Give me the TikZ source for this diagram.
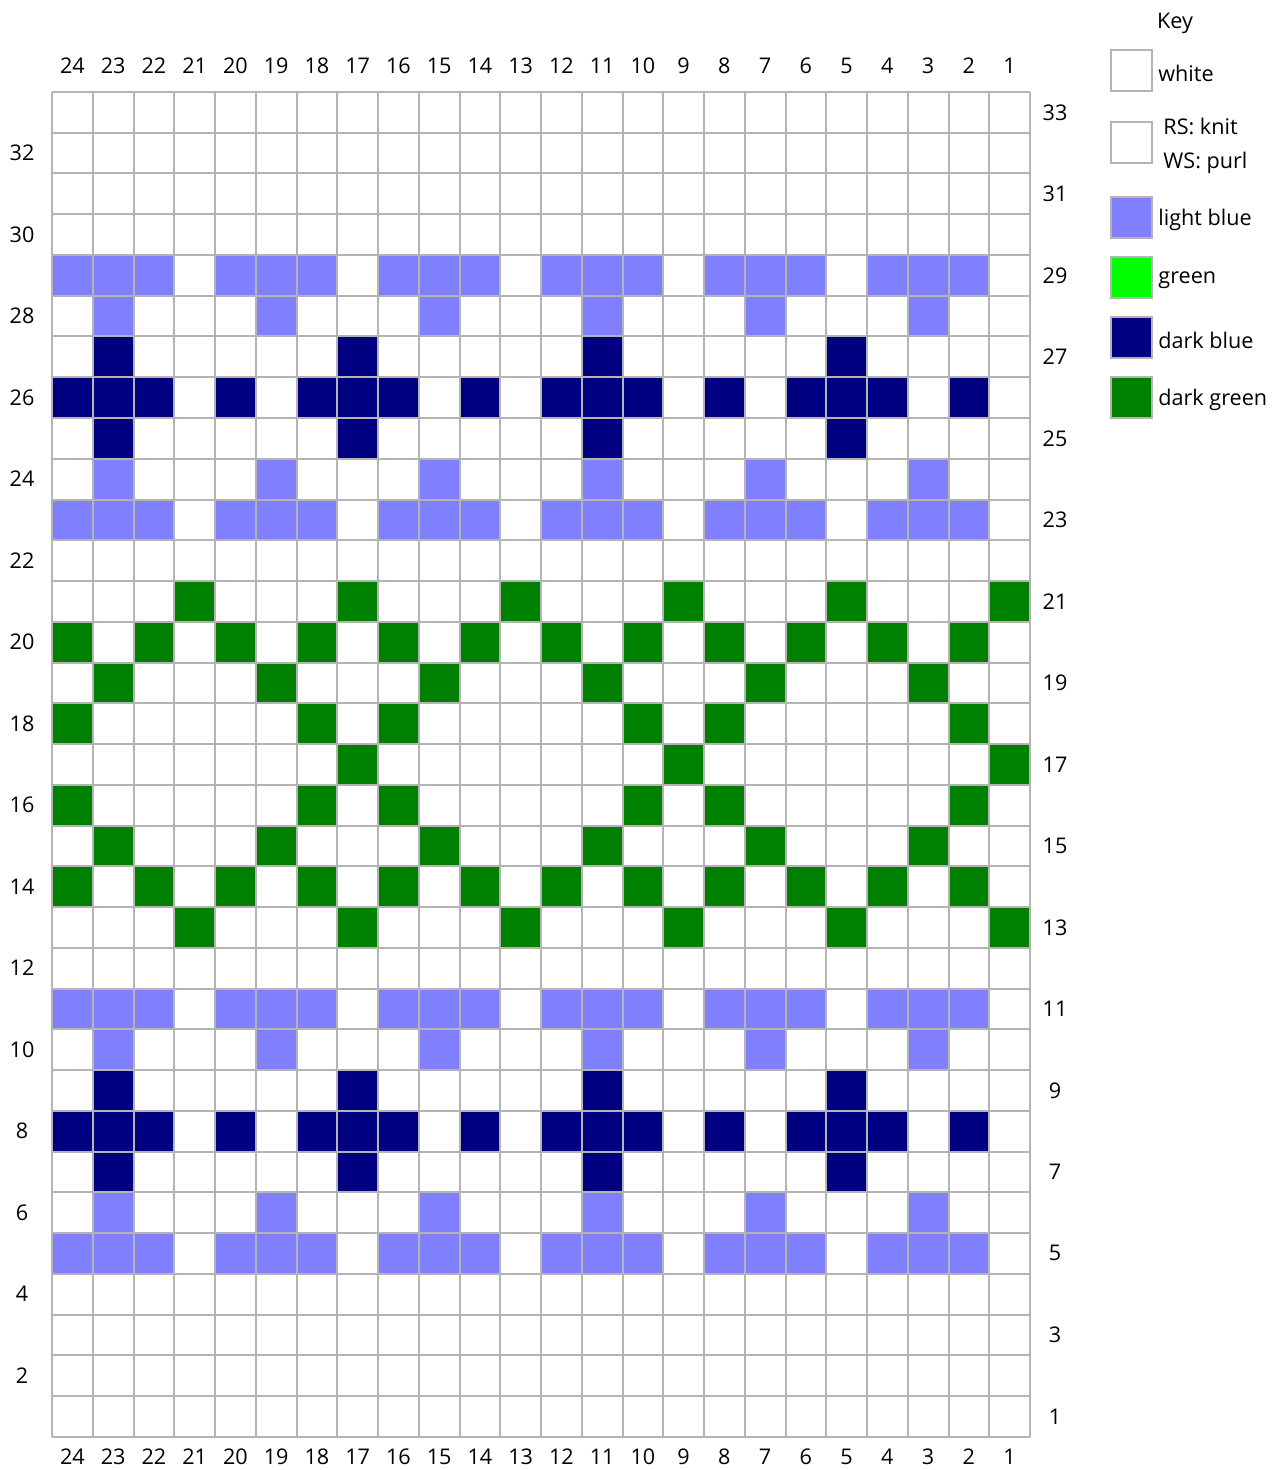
\documentclass[tikz,border=0pt]{standalone}
\usepackage{fontspec}
\setmainfont{Open Sans}
\definecolor{lightblue}{HTML}{8080FF}
\definecolor{darkblue}{HTML}{000080}
\definecolor{brightgreen}{HTML}{00FF00}
\definecolor{darkgreen}{HTML}{008000}
\definecolor{gridgray}{HTML}{B4B4B4}

\newcommand{\cw}{40.75}

\begin{document}
\begin{tikzpicture}[
    x=0.5pt, y=-0.5pt,
    gridline/.style={draw=gridgray, line width=1pt},
    numlabel/.style={font=\fontsize{10.8}{12}\selectfont, inner sep=0pt},
    keybox/.style={draw=gridgray, line width=1pt, minimum size=20.5pt, inner sep=0pt},
    keytext/.style={font=\fontsize{10.8}{17}\selectfont, anchor=west, inner sep=0pt, align=left},
  ]
  \useasboundingbox (0,0) rectangle (1274,1470);

  % coloured stitches
  \foreach \r/\cols in {5/{2,3,4,6,7,8,10,11,12,14,15,16,18,19,20,22,23,24},
                        11/{2,3,4,6,7,8,10,11,12,14,15,16,18,19,20,22,23,24},
                        23/{2,3,4,6,7,8,10,11,12,14,15,16,18,19,20,22,23,24},
                        29/{2,3,4,6,7,8,10,11,12,14,15,16,18,19,20,22,23,24},
                        6/{3,7,11,15,19,23}, 10/{3,7,11,15,19,23},
                        24/{3,7,11,15,19,23}, 28/{3,7,11,15,19,23}}
    \foreach \c in \cols
      \fill[lightblue] ({52+(24-\c)*\cw}, {92+(33-\r)*\cw}) rectangle ++(\cw,\cw);

  \foreach \r/\cols in {7/{5,11,17,23}, 9/{5,11,17,23}, 25/{5,11,17,23}, 27/{5,11,17,23},
                        8/{2,4,5,6,8,10,11,12,14,16,17,18,20,22,23,24},
                        26/{2,4,5,6,8,10,11,12,14,16,17,18,20,22,23,24}}
    \foreach \c in \cols
      \fill[darkblue] ({52+(24-\c)*\cw}, {92+(33-\r)*\cw}) rectangle ++(\cw,\cw);

  \foreach \r/\cols in {13/{1,5,9,13,17,21}, 21/{1,5,9,13,17,21},
                        14/{2,4,6,8,10,12,14,16,18,20,22,24},
                        20/{2,4,6,8,10,12,14,16,18,20,22,24},
                        15/{3,7,11,15,19,23}, 19/{3,7,11,15,19,23},
                        16/{2,8,10,16,18,24}, 18/{2,8,10,16,18,24},
                        17/{1,9,17}}
    \foreach \c in \cols
      \fill[darkgreen] ({52+(24-\c)*\cw}, {92+(33-\r)*\cw}) rectangle ++(\cw,\cw);

  % grid
  \foreach \i in {0,...,24}
    \draw[gridline] ({52+\i*\cw}, 92) -- ({52+\i*\cw}, {92+33*\cw});
  \foreach \j in {0,...,33}
    \draw[gridline] (52, {92+\j*\cw}) -- ({52+24*\cw}, {92+\j*\cw});

  % stitch and row numbers
  \foreach \c in {1,...,24} {
    \node[numlabel] (top\c) at ({52+(24.5-\c)*\cw}, 66) {\c};
    \node[numlabel] (bot\c) at ({52+(24.5-\c)*\cw}, 1457) {\c};
  }
  \foreach \r in {2,4,...,32}
    \node[numlabel] (row\r) at (22, {92+(33.5-\r)*\cw}) {\r};
  \foreach \r in {1,3,...,33}
    \node[numlabel] (row\r) at (1055, {92+(33.5-\r)*\cw}) {\r};

  % key
  \node[numlabel] (key) at (1175, 23) {Key};
  \node[keybox] (kwhite) at (1131, 71) {};
  \node[keytext] (twhite) at (1158, 73) {white};
  \node[keybox] (kknit) at (1131, 143) {};
  \node[keytext] (tknit) at (1163, 146) {RS: knit\\WS: purl};
  \node[keybox, fill=lightblue] (klblue) at (1131, 218) {};
  \node[keytext] (tlblue) at (1158, 220) {light blue};
  \node[keybox, fill=brightgreen] (kgreen) at (1131, 278) {};
  \node[keytext] (tgreen) at (1158, 280) {green};
  \node[keybox, fill=darkblue] (kdblue) at (1131, 338) {};
  \node[keytext] (tdblue) at (1158, 340) {dark blue};
  \node[keybox, fill=darkgreen] (kdgreen) at (1131, 398) {};
  \node[keytext] (tdgreen) at (1158, 400) {dark green};
\end{tikzpicture}
\end{document}
